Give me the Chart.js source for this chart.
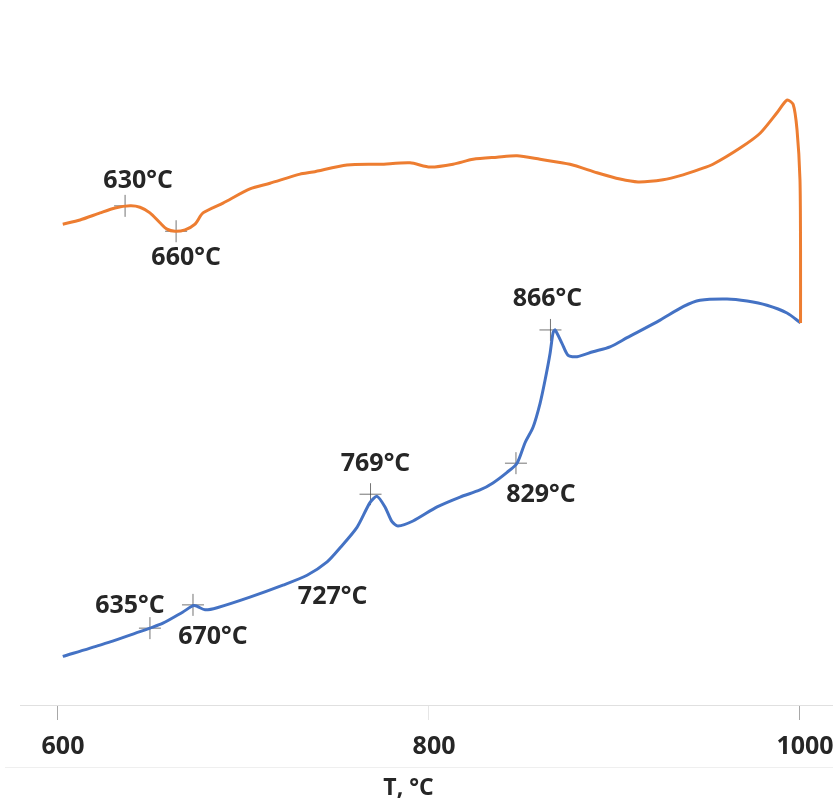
<!DOCTYPE html>
<html>
<head>
<meta charset="utf-8">
<title>T, °C</title>
<script src="https://cdn.jsdelivr.net/npm/chart.js@4"></script>
<style>
  html, body { margin: 0; padding: 0; background: #fff; overflow: hidden; }
  canvas { display: block; }
</style>
</head>
<body>
<canvas id="dsc" width="833" height="798"></canvas>
<script>
// upper curve (orange)
const orangeT = [603.1, 612.4, 623.2, 631.3, 639.4, 644.7, 650.1, 655.5, 659.3, 663.6, 669.0, 674.4, 678.7,
  689.5, 704.0, 714.8, 731.0, 738.0, 756.3, 774.1, 790.3, 801.1, 813.5, 824.3, 837.2, 848.0, 860.4, 876.5,
  891.1, 903.5, 913.2, 926.7, 937.5, 946.6, 953.6, 968.2, 979.0, 988.1, 993.5, 996.8, 998.9, 1000.5, 1000.8, 1000.8];
const orangeY = [68.2, 68.8, 69.8, 70.5, 70.8, 70.6, 69.8, 68.4, 67.5, 67.2, 67.4, 68.2, 69.8,
  71.2, 73.2, 74.0, 75.3, 75.6, 76.6, 76.7, 76.9, 76.3, 76.7, 77.4, 77.7, 77.9, 77.4, 76.7,
  75.5, 74.6, 74.2, 74.5, 75.2, 76.0, 76.7, 79.0, 81.1, 84.0, 85.8, 85.2, 81.6, 74.5, 64.5, 54.2];

// lower curve (blue)
const blueT = [603.1, 623.2, 644.7, 650.1, 657.1, 667.9, 673.9, 679.8, 686.3, 704.0, 721.8, 734.8, 745.6,
  752.6, 761.7, 768.7, 772.5, 776.8, 780.6, 783.8, 791.9, 804.9, 817.3, 828.0, 835.0, 842.6, 848.0, 852.3,
  856.6, 860.4, 863.1, 865.8, 867.4, 868.5, 872.2, 875.5, 880.3, 888.9, 898.1, 907.3, 925.1, 937.5, 946.6,
  961.2, 972.0, 982.7, 993.5, 1000.8];
const blueY = [6.9, 8.5, 10.4, 10.9, 11.6, 13.2, 14.1, 13.5, 13.8, 15.3, 17.0, 18.4, 20.3,
  22.3, 25.2, 28.7, 29.6, 28.1, 26.0, 25.4, 26.1, 28.1, 29.5, 30.5, 31.5, 33.0, 34.3, 37.2,
  39.4, 42.8, 46.1, 49.9, 52.8, 53.2, 51.3, 49.6, 49.4, 50.1, 50.8, 52.1, 54.6, 56.5, 57.4,
  57.6, 57.3, 56.7, 55.6, 54.2];

// characteristic points
const markT = [636.7, 664.2, 650.1, 673.3, 727, 769, 847.4, 866];
const markY = [70.8, 67.2, 10.9, 14.2, 17.6, 29.9, 34.3, 53.2];
const markText = ['630°C', '660°C', '635°C', '670°C', '727°C', '769°C', '829°C', '866°C'];
const markShown = [true, true, true, true, false, true, true, true];
// label offsets from the point, px
const markDx = [13, 10, -20, 20, 40, 5, 25, -3];
const markDy = [-25, 27, -22, 32, 16, -30, 32, -31];

const xTicks = [600, 800, 1000];
const xTitle = 'T, °C';

const pts = (xs, ys) => xs.map((x, i) => ({ x, y: ys[i] }));
const FONT = '"Open Sans", "DejaVu Sans", sans-serif';

const labelsPlugin = {
  id: 'labels',
  afterDraw(chart) {
    const { ctx, scales: { x, y }, chartArea } = chart;
    ctx.save();
    ctx.fillStyle = '#262626';
    ctx.textAlign = 'center';
    ctx.textBaseline = 'middle';
    ctx.font = '700 25px ' + FONT;
    markT.forEach((t, i) => {
      ctx.fillText(markText[i], x.getPixelForValue(t) + markDx[i], y.getPixelForValue(markY[i]) + markDy[i]);
    });
    // axis tick labels
    xTicks.forEach(v => ctx.fillText(String(v), x.getPixelForValue(v) + 6, chartArea.bottom + 42));
    // thin rule under the tick labels
    ctx.strokeStyle = '#efefef';
    ctx.lineWidth = 1;
    ctx.beginPath();
    ctx.moveTo(5, chartArea.bottom + 62.5);
    ctx.lineTo(chart.width, chartArea.bottom + 62.5);
    ctx.stroke();
    ctx.font = '700 23px ' + FONT;
    ctx.fillText(xTitle, (chartArea.left + chartArea.right) / 2 - 18, chartArea.bottom + 83);
    ctx.restore();
  }
};

new Chart(document.getElementById('dsc'), {
  type: 'line',
  data: {
    datasets: [
      {
        data: pts(orangeT, orangeY),
        borderColor: '#ED7D31', borderWidth: 3, pointRadius: 0, tension: 0.25, order: 1
      },
      {
        data: pts(blueT, blueY),
        borderColor: '#4472C4', borderWidth: 3, pointRadius: 0, tension: 0.25, order: 1
      },
      {
        data: pts(markT, markY),
        showLine: false,
        pointStyle: 'cross',
        pointRadius: markShown.map(s => s ? 11 : 0),
        pointBorderWidth: 1,
        pointBorderColor: 'rgba(70,70,70,0.75)',
        order: 3
      }
    ]
  },
  options: {
    responsive: false,
    animation: false,
    devicePixelRatio: 1,
    layout: { autoPadding: false, padding: { left: 20, right: 0, top: 0, bottom: 0 } },
    plugins: { legend: { display: false }, tooltip: { enabled: false } },
    scales: {
      x: {
        type: 'linear',
        min: 580.05,
        max: 1018.3,
        afterBuildTicks: (s) => { s.ticks = xTicks.map(v => ({ value: v })); },
        afterFit: (s) => { s.height = 93; },
        ticks: { display: false },
        grid: {
          drawOnChartArea: false,
          drawTicks: true,
          tickLength: 15,
          color: (c) => (c.tick && c.tick.value === 800) ? '#e6e6e6' : '#a8a8a8'
        },
        border: { display: true, color: '#e0e0e0', width: 1 }
      },
      y: { display: false, min: 0, max: 100 }
    }
  },
  plugins: [labelsPlugin]
});
</script>
</body>
</html>
